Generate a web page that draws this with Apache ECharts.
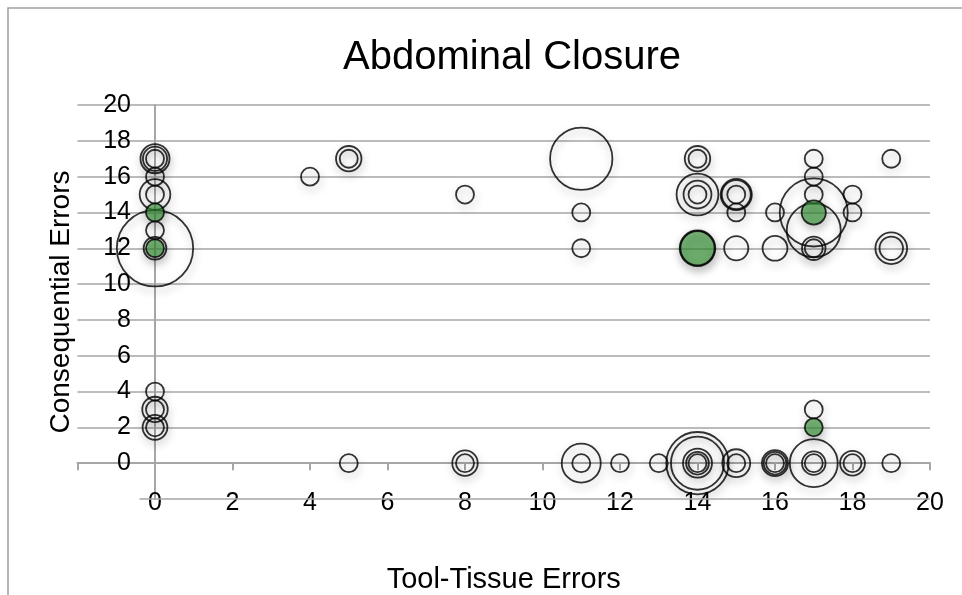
<!DOCTYPE html>
<html>
<head>
<meta charset="utf-8">
<script src="https://cdn.jsdelivr.net/npm/echarts@6/dist/echarts.min.js"></script>
<style>
  html, body { margin: 0; padding: 0; background: #ffffff; }
  #chart { width: 962px; height: 595px; }
</style>
</head>
<body>
<div id="chart"></div>
<script>
// Outlined bubbles: tool-tissue errors (x), consequential errors (y), bubble size (s)
const plainX = [0,0,0, 0, 0,0, 0, 0,0, 0, 0,0, 0,0, 4, 5,5, 5, 8, 8,8, 11, 11, 11, 11,11, 12, 13, 14,14, 14,14,14, 14, 14,14,14,14,14, 15,15,15, 15, 15, 15,15, 16, 16, 16,16,16, 17, 17, 17, 17, 17, 17,17, 17, 17,17,17, 18, 18, 18,18, 19, 19,19, 19];
const plainY = [17,17,17, 16, 15,15, 13, 12,12, 4, 3,3, 2,2, 16, 17,17, 0, 15, 0,0, 17, 14, 12, 0,0, 0, 0, 17,17, 15,15,15, 12, 0,0,0,0,0, 15,15,15, 14, 12, 0,0, 14, 12, 0,0,0, 17, 16, 15, 14, 13, 12,12, 3, 0,0,0, 15, 14, 0,0, 17, 12,12, 0];
const plainS = [1,1.8,2.6, 1, 1,2.9, 1, 1.6,18, 1, 1,2, 1,1.9, 1, 1,2, 1, 1, 1,2, 12, 1, 1, 1,4.7, 1, 1, 1,2, 1,2.4,5.4, 3.9, 1,1.6,2.6,8.7,12, 1,2.6,3, 1, 1.8, 1,2.4, 1, 1.9, 1,1.6,2.1, 1, 1, 1, 14.3, 9, 1,1.7, 1, 1,1.7,7.1, 1, 1, 1,1.9, 1, 1.7,3.1, 1];

// Green-filled bubbles
const greenX = [0, 0, 14, 17, 17];
const greenY = [14, 12, 12, 14, 2];
const greenS = [1, 1, 3.6, 1.8, 1];

// Axis ticks
const xTickMin = -2, xTickMax = 20, xTickStep = 2;
const yTickMin = -2, yTickMax = 20, yTickStep = 2;

const BASE_DIAMETER = 18; // px for a bubble of size 1; area grows with size

function buildPoints(xs, ys, ss) {
  const pts = xs.map((x, i) => [x, ys[i], ss[i]]);
  // larger bubbles first so smaller rings stay on top
  pts.sort((a, b) => b[2] - a[2]);
  return pts;
}

const sizeOf = v => BASE_DIAMETER * Math.sqrt(v[2]);
const shadow = { shadowColor: 'rgba(0,0,0,0.35)', shadowBlur: 9, shadowOffsetX: 1, shadowOffsetY: 4 };
const FONT = '"Liberation Sans", Arial, Helvetica, sans-serif';
const GRID_GRAY = '#a6a6a6';

const chart = echarts.init(document.getElementById('chart'), null, { renderer: 'canvas' });

chart.setOption({
  animation: false,
  backgroundColor: '#ffffff',
  textStyle: { fontFamily: FONT },
  graphic: [{
    type: 'rect',
    silent: true,
    shape: { x: 8, y: 8, width: 1000, height: 1000 },
    style: { fill: 'none', stroke: '#a0a0a0', lineWidth: 1.5 }
  }],
  title: {
    text: 'Abdominal Closure',
    left: 507,
    top: 33,
    textAlign: 'center',
    textStyle: { fontFamily: FONT, fontSize: 40, fontWeight: 'normal', color: '#000000' }
  },
  grid: { left: 77.5, right: 32, top: 105, bottom: 96, containLabel: false, outerBoundsMode: 'none' },
  xAxis: {
    type: 'value',
    min: xTickMin, max: xTickMax, interval: xTickStep,
    name: 'Tool-Tissue Errors',
    nameLocation: 'middle',
    nameGap: 66,
    nameTextStyle: { fontFamily: FONT, fontSize: 29, color: '#000000' },
    axisLine: { onZero: true, lineStyle: { color: GRID_GRAY, width: 2 } },
    axisTick: { show: true, inside: false, length: 7, lineStyle: { color: GRID_GRAY, width: 2 } },
    axisLabel: {
      margin: -8, fontSize: 25, color: '#000000', fontFamily: FONT,
      formatter: v => (v < 0 ? '' : String(v))
    },
    splitLine: { show: false }
  },
  yAxis: {
    type: 'value',
    min: yTickMin, max: yTickMax, interval: yTickStep,
    name: 'Consequential Errors',
    nameLocation: 'middle',
    nameGap: 2,
    nameRotate: 90,
    nameTextStyle: { fontFamily: FONT, fontSize: 28, color: '#000000' },
    axisLine: { onZero: true, lineStyle: { color: GRID_GRAY, width: 2 } },
    axisTick: { show: false },
    axisLabel: {
      margin: -53.5, fontSize: 25, color: '#000000', fontFamily: FONT,
      formatter: v => (v < 0 ? '' : String(v))
    },
    splitLine: { show: true, showMinLine: false, lineStyle: { color: GRID_GRAY, width: 1.6 } }
  },
  series: [
    {
      name: 'outlined',
      type: 'scatter',
      data: buildPoints(plainX, plainY, plainS),
      symbol: 'circle',
      symbolSize: sizeOf,
      itemStyle: Object.assign({ color: 'rgba(255,255,255,0)', borderColor: '#000000', borderWidth: 1.8 }, shadow),
      emphasis: { disabled: true },
      markLine: {
        silent: true,
        symbol: 'none',
        label: { show: false },
        lineStyle: { color: GRID_GRAY, width: 1.6, type: 'solid' },
        data: [[{ coord: [-0.4, yTickMin] }, { coord: [xTickMax, yTickMin] }]]
      },
      z: 3
    },
    {
      name: 'green',
      type: 'scatter',
      data: buildPoints(greenX, greenY, greenS),
      symbol: 'circle',
      symbolSize: sizeOf,
      itemStyle: Object.assign({ color: 'rgba(52,153,52,0.78)', borderColor: '#000000', borderWidth: 1.8 }, shadow),
      emphasis: { disabled: true },
      z: 4
    }
  ]
});
</script>
</body>
</html>
